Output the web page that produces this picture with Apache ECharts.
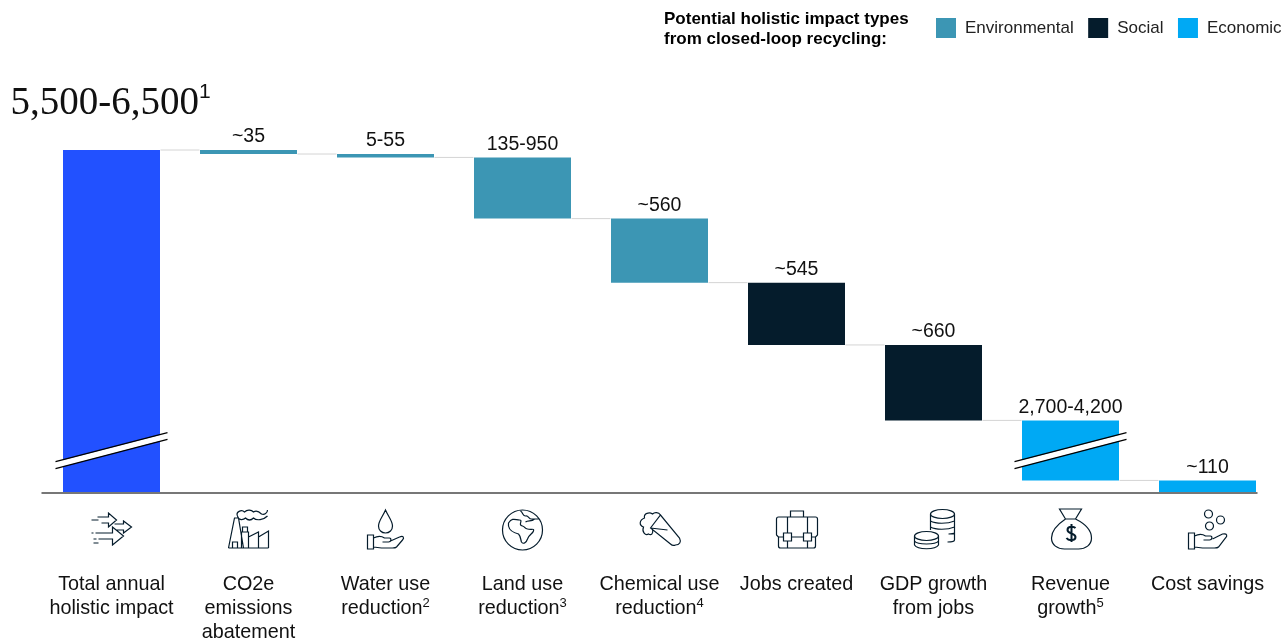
<!DOCTYPE html>
<html>
<head>
<meta charset="utf-8">
<title>Holistic impact of closed-loop recycling</title>
<script src="https://cdn.jsdelivr.net/npm/echarts@6/dist/echarts.min.js"></script>
<style>
  html, body { margin: 0; padding: 0; background: #fff; }
  #main { width: 1288px; height: 639px; }
</style>
</head>
<body>
<div id="main"></div>
<script>
// categories along the axis
const categories = [
  'Total annual\nholistic impact', 'CO2e\nemissions\nabatement', 'Water use\nreduction²',
  'Land use\nreduction³', 'Chemical use\nreduction⁴', 'Jobs created',
  'GDP growth\nfrom jobs', 'Revenue\ngrowth⁵', 'Cost savings'
];
// printed labels (ranges and estimates, as in the picture)
const valueLabels = ['5,500-6,500', '~35', '5-55', '135-950', '~560', '~545', '~660', '2,700-4,200', '~110'];
// bar heights as drawn; the total and revenue bars are drawn with a broken axis
const totalValues = [3000, null, null, null, null, null, null, null, null];
const environmentalValues = [null, 35, 30, 535, 560, null, null, null, null];
const socialValues = [null, null, null, null, null, 545, 660, null, null];
const economicValues = [null, null, null, null, null, null, null, 525, 110];
// the bars that carry an axis break
const brokenBars = [0, 7];
const legendNames = ['Environmental', 'Social', 'Economic'];

const FONT = '"Liberation Sans", Arial, sans-serif';
const INK = '#051C2C';
const SUPERS = { '²': '2', '³': '3', '⁴': '4', '⁵': '5' };

// invisible base of the waterfall: what is left after each step
const stepValues = categories.map((c, i) => totalValues[i] || environmentalValues[i] || socialValues[i] || economicValues[i]);
const baseValues = [];
let left = 0;
stepValues.forEach((v, i) => {
  if (i === 0) { baseValues.push(0); left = v; return; }
  left -= v;
  baseValues.push(left);
});
// level of the grey connector to the right of each bar
const connectorLevels = baseValues.map((b, i) => (i === 0 ? stepValues[0] : b)).slice(0, -1);

// line icons, drawn around the icon centre
const iconPaths = [
  // arrows
  'M-16,3 H1 V-3 L12,6 L1,15 V9 H-13 M-20,3 H-18 M-18,9 H-15 M-13,13 H-18 ' +
  'M-14,-13 H-3 V-17 L5,-10 L-3,-3 V-7 H-10 M-20,-10 H-13 ' +
  'M3,-6 H12 V-9 L20,-3 L12,3 V0 H5',
  // factory and smoke
  'M-20,18 H20 M-20,18 L-14,-12 H-10 L-5,18 M-16,18 V12 H-11 V18 M-8,18 M-7,18 V2 H0 V18 M-6,2 V-3 H-1 V2 ' +
  'M0,7 L10,2 V18 M10,7 L20,1 V18 ' +
  'M-11,-14 C-13,-18 -7,-21 -4,-18 C-1,-21 3,-20 5,-18 C8,-20 11,-18 13,-16 C16,-15 19,-17 19,-20 ' +
  'M-11,-14 C-10,-9 -5,-10 -3,-12 C0,-9 3,-10 5,-12 C8,-9 15,-10 19,-14',
  // drop over hand
  'M0,-20 C-3,-13 -7,-9 -7,-4 C-7,0 -4,3 0,3 C4,3 7,0 7,-4 C7,-9 3,-13 0,-20 Z ' +
  'M-18,5 H-12 V19 H-18 Z M-12,8 C-8,6 -4,6 -1,8 H4 C6,8 6,12 3,12 H-3 M5,11 L14,7 C18,5 19,8 17,10 L11,17 C10,18 8,18 7,18 H-4 L-12,17',
  // globe
  'M20,0 A20,20 0 1 1 -20,0 A20,20 0 1 1 20,0 Z ' +
  'M-14,-7 C-10,-13 -7,-10 -3,-10 C1,-10 -5,-5 0,-4 C3,-3 2,-1 5,-1 C9,0 12,-2 11,1 C10,4 6,5 5,9 C4,12 1,15 -1,12 C-2,9 -2,6 -4,4 C-8,3 -13,1 -14,-4 Z ' +
  'M-2,-19 C1,-17 0,-14 3,-14 C6,-15 6,-11 9,-11 L17,-11 M3,-8 C6,-10 9,-8 12,-11',
  // test tube with foam
  'M-9,-2 L1,-15 L20,8 C22,12 20,15 16,15 C14,16 12,15 11,14 Z M-9,-2 L8,0 ' +
  'M1,-15 C-1,-18 -5,-18 -7,-16 C-10,-18 -16,-17 -15,-12 C-20,-10 -21,-5 -16,-3 C-18,2 -14,6 -11,4 C-8,6 -6,3 -7,0',
  // briefcase
  'M-20,-11 Q-20,-13 -18,-13 H19 Q21,-13 21,-11 V5 L19,7 V16 Q19,18 17,18 H-16 Q-18,18 -18,16 V7 L-20,5 Z ' +
  'M-6,-13 V-19 H7 V-13 M-9,-13 V3 M11,-13 V3 M-9,11 V18 M11,11 V18 M-5,7 H7 M-18,7 H-13 M15,7 H19 ' +
  'M-13,3 H-5 V11 H-13 Z M7,3 H15 V11 H7 Z',
  // coins
  'M21,-16 A12,4.5 0 1 1 -3,-16 A12,4.5 0 1 1 21,-16 Z M-3,-16 V0 M21,-16 V10 C21,12 17,12 14,12 ' +
  'M-3,-9 C2,-6 14,-6 21,-9 M-3,-3 C2,0 14,0 21,-3 M15,4 C17,4 20,4 21,3 ' +
  'M5,6 A12,4.5 0 1 1 -19,6 A12,4.5 0 1 1 5,6 Z M-19,6 V15 C-16,20 2,20 5,15 V6 M-19,11 C-16,15 2,15 5,11',
  // money bag
  'M-11,-21 H11 L5,-11 C13,-7 21,-1 21,8 C21,15 15,19 8,19 H-6 C-13,19 -19,15 -19,8 C-19,-1 -11,-7 -5,-11 Z M-5,-11 H5',
  // hand with coins
  'M5,-16 A4,4 0 1 1 -3,-16 A4,4 0 1 1 5,-16 Z M17,-10 A4,4 0 1 1 9,-10 A4,4 0 1 1 17,-10 Z M6,-4 A4,4 0 1 1 -2,-4 A4,4 0 1 1 6,-4 Z ' +
  'M-19,3 H-13 V19 H-19 Z M-13,6 C-9,4 -5,4 -2,6 H3 C5,6 5,10 2,10 H-4 M5,9 L15,4 C20,3 20,6 18,8 L11,17 C10,18 8,18 7,18 H-5 L-13,17'
];
// the dollar sign on the money bag is heavier than the rest
const dollarPath = 'M5,-2 C3,-4 -3,-4 -3,0 C-3,4 5,3 5,7 C5,11 -2,11 -4,8 M1,-6 V12';

const chart = echarts.init(document.getElementById('main'));

function stepSeries(name, values, color, extra) {
  return Object.assign({
    name: name,
    type: 'bar',
    stack: 'waterfall',
    barWidth: 97,
    data: values,
    itemStyle: { color: color },
    label: {
      show: true,
      position: 'top',
      distance: 3,
      color: '#111',
      fontFamily: FONT,
      fontSize: 19.5,
      formatter: p => valueLabels[p.dataIndex]
    }
  }, extra || {});
}

const option = {
  animation: false,
  backgroundColor: '#fff',
  title: {
    text: 'Potential holistic impact types\nfrom closed-loop recycling:',
    left: 659,
    top: 4,
    textStyle: { fontFamily: FONT, fontSize: 17, fontWeight: 'bold', lineHeight: 20, color: '#000' }
  },
  legend: {
    data: legendNames,
    left: 936,
    top: 18,
    padding: 0,
    icon: 'rect',
    itemWidth: 20,
    itemHeight: 20,
    itemGap: 14.5,
    selectedMode: false,
    textStyle: { fontFamily: FONT, fontSize: 17, color: '#222', padding: [2, 0, 0, 4] }
  },
  grid: { left: 43, top: 150, width: 1233, bottom: 146, outerBoundsMode: 'none' },
  xAxis: {
    type: 'category',
    data: categories,
    axisLine: { show: false },
    axisTick: { show: false },
    axisLabel: {
      interval: 0,
      margin: 80,
      color: '#111',
      fontFamily: FONT,
      fontSize: 19.8,
      lineHeight: 24,
      verticalAlign: 'top',
      formatter: v => v.replace(/[²³⁴⁵]/g, m => '{s|' + SUPERS[m] + '}'),
      rich: {
        s: { fontFamily: FONT, fontSize: 13, lineHeight: 13, verticalAlign: 'top', color: '#111' }
      }
    }
  },
  yAxis: { type: 'value', min: 0, max: 3000, show: false },
  series: [
    {
      name: 'base',
      type: 'bar',
      stack: 'waterfall',
      barWidth: 97,
      silent: true,
      data: baseValues,
      itemStyle: { color: 'transparent' }
    },
    stepSeries('Total', totalValues, '#2251FF', {
      label: {
        show: true,
        position: 'top',
        distance: 24,
        offset: [-1, 0],
        formatter: p => '{big|' + valueLabels[p.dataIndex] + '}{sup|1}',
        rich: {
          big: { fontFamily: '"Liberation Serif", serif', fontSize: 39, lineHeight: 44, color: '#111' },
          sup: { fontFamily: FONT, fontSize: 21, lineHeight: 21, verticalAlign: 'top', color: '#111' }
        }
      }
    }),
    stepSeries('Environmental', environmentalValues, '#3C96B4'),
    stepSeries('Social', socialValues, INK),
    stepSeries('Economic', economicValues, '#00A9F4'),
    {
      // grey connectors between the steps
      type: 'custom',
      silent: true,
      z: 1,
      data: connectorLevels.map((v, i) => [i, v]),
      renderItem: (params, api) => {
        const from = api.coord([api.value(0), api.value(1)]);
        const to = api.coord([api.value(0) + 1, api.value(1)]);
        return {
          type: 'line',
          shape: { x1: from[0] + 49, y1: from[1], x2: to[0] - 49, y2: to[1] },
          style: { stroke: '#d4d4d4', lineWidth: 1 }
        };
      }
    },
    {
      // axis break, a white band with a thin line along each side
      type: 'custom',
      silent: true,
      z: 5,
      data: brokenBars.map(i => [i, 0]),
      renderItem: (params, api) => {
        const p = api.coord([api.value(0), 0]);
        return {
          type: 'group',
          x: p[0],
          y: p[1],
          children: [
            { type: 'polygon', shape: { points: [[-56, -31], [56, -60], [56, -54], [-56, -24.5]] }, style: { fill: '#fff' } },
            { type: 'line', shape: { x1: -56, y1: -31.3, x2: 56, y2: -60.3 }, style: { stroke: '#000', lineWidth: 1.2 } },
            { type: 'line', shape: { x1: -56, y1: -24.3, x2: 56, y2: -53.7 }, style: { stroke: '#000', lineWidth: 1.2 } }
          ]
        };
      }
    },
    {
      // baseline stops short of the last band, so it is not the axis line
      type: 'custom',
      silent: true,
      z: 6,
      data: [[0, 0]],
      renderItem: (params, api) => {
        const first = api.coord([0, 0]);
        const last = api.coord([categories.length - 1, 0]);
        return {
          type: 'line',
          shape: { x1: first[0] - 70, y1: first[1], x2: last[0] + 50, y2: last[1] },
          style: { stroke: '#777', lineWidth: 2 }
        };
      }
    },
    {
      // icons under the axis
      type: 'custom',
      silent: true,
      z: 6,
      data: categories.map((c, i) => [i, 0]),
      renderItem: (params, api) => {
        const p = api.coord([api.value(0), 0]);
        const children = [{
          type: 'path',
          shape: { pathData: iconPaths[api.value(0)] },
          style: { fill: 'none', stroke: INK, lineWidth: 1.2 }
        }];
        if (api.value(0) === 7) {
          children.push({
            type: 'path',
            shape: { pathData: dollarPath },
            style: { fill: 'none', stroke: INK, lineWidth: 2 }
          });
        }
        return { type: 'group', x: p[0], y: p[1] + 37, children: children };
      }
    }
  ]
};

chart.setOption(option);
</script>
</body>
</html>
